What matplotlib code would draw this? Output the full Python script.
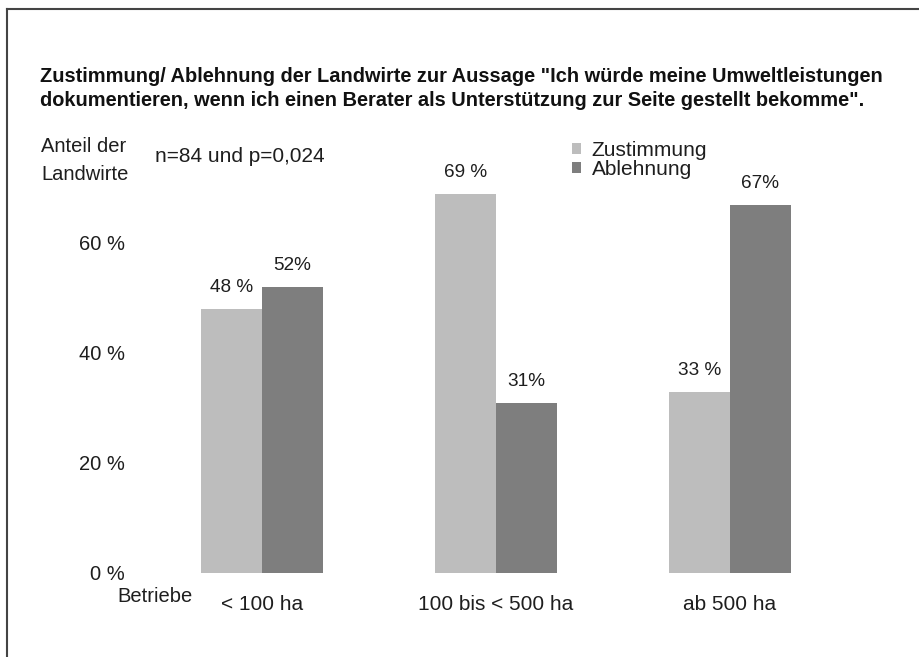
import matplotlib
matplotlib.use("Agg")
import matplotlib.pyplot as plt
from matplotlib.lines import Line2D
import numpy as np

plt.rcParams['font.family'] = ['Liberation Sans', 'DejaVu Sans']

W, H = 919, 657

categories = ['< 100 ha', '100 bis < 500 ha', 'ab 500 ha']
zustimmung = [48, 69, 33]
ablehnung = [52, 31, 67]
zust_labels = ['48 %', '69 %', '33 %']
abl_labels = ['52%', '31%', '67%']
yticks = [0, 20, 40, 60]
ytick_labels = ['0 %', '20 %', '40 %', '60 %']

light = '#bdbdbd'
dark = '#7e7e7e'
txt = '#1e1e1e'
fs = 14.5


def px(x, y):
    # pixel position -> figure fraction
    return x / W, 1 - y / H


fig = plt.figure(figsize=(W / 100, H / 100), dpi=100)
ax = fig.add_axes([133 / W, (H - 573) / H, 747 / W, 413 / H])

x = np.arange(len(categories))
bw = 0.26
b1 = ax.bar(x - bw / 2, zustimmung, bw, color=light, label='Zustimmung')
b2 = ax.bar(x + bw / 2, ablehnung, bw, color=dark, label='Ablehnung')
ax.bar_label(b1, labels=zust_labels, padding=9, fontsize=13.7, color=txt)
ax.bar_label(b2, labels=abl_labels, padding=9, fontsize=13.7, color=txt)

ax.set_xlim(-0.5513, 2.641)
ax.set_ylim(0, 413 / 5.5)
ax.set_yticks(yticks)
ax.set_yticklabels(ytick_labels, fontsize=fs, color=txt)
ax.set_xticks(x)
ax.set_xticklabels(categories, fontsize=15, color=txt)
ax.tick_params(axis='y', length=0, pad=5.8)
ax.tick_params(axis='x', length=0, pad=16)
for s in ax.spines.values():
    s.set_visible(False)

leg = ax.legend(loc='upper left', bbox_to_anchor=px(572, 141),
                bbox_transform=fig.transFigure, frameon=False,
                fontsize=15, handlelength=0.45, handleheight=0.45,
                handletextpad=0.5, labelspacing=0.0, borderpad=0,
                borderaxespad=0)
for t in leg.get_texts():
    t.set_color(txt)

# title and side notes
fig.text(*px(40, 76), 'Zustimmung/ Ablehnung der Landwirte zur Aussage "Ich würde meine Umweltleistungen',
         fontsize=14.45, fontweight='bold', va='center', color='#111111')
fig.text(*px(40, 100), 'dokumentieren, wenn ich einen Berater als Unterstützung zur Seite gestellt bekomme".',
         fontsize=14.45, fontweight='bold', va='center', color='#111111')
fig.text(*px(41, 146), 'Anteil der', fontsize=fs, va='center', color=txt)
fig.text(*px(41, 175), 'Landwirte', fontsize=fs, va='center', color=txt)
fig.text(*px(155, 156), 'n=84 und p=0,024', fontsize=15, va='center', color=txt)
fig.text(*px(117, 597), 'Betriebe', fontsize=fs, va='center', color=txt)

# frame on the left and top edge
fig.add_artist(Line2D([7 / W, 7 / W], [0, 1 - 9 / H], color='#444444', lw=1.5))
fig.add_artist(Line2D([7 / W, 1], [1 - 9 / H, 1 - 9 / H], color='#444444', lw=1.5))

fig.savefig('out.png', dpi=100)
